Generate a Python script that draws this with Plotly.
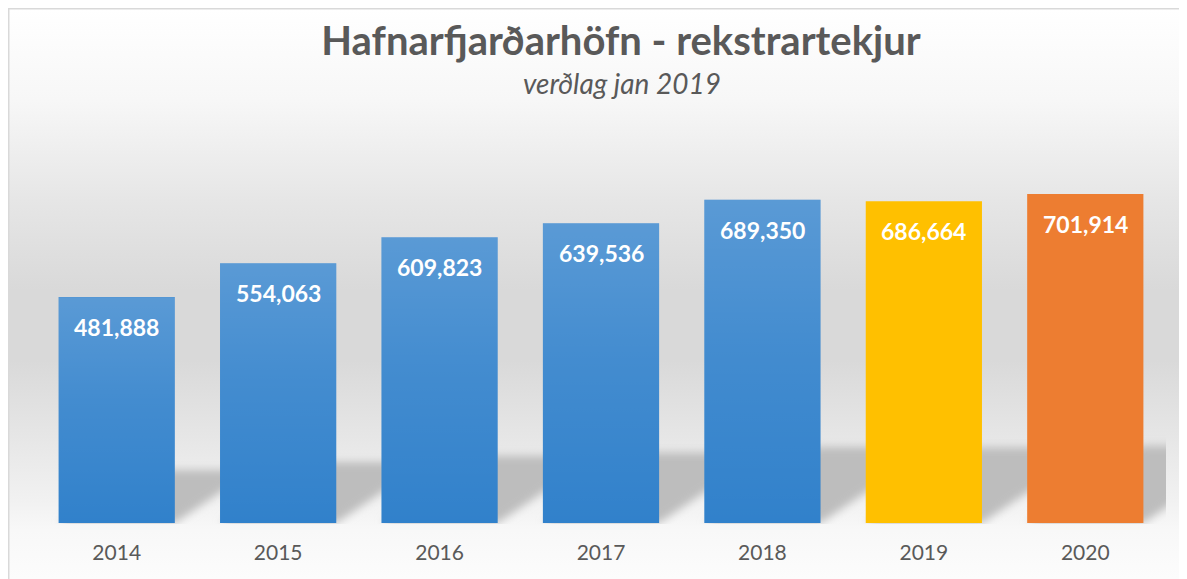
import base64
import plotly.graph_objects as go

# ---- data ----
years = ["2014", "2015", "2016", "2017", "2018", "2019", "2020"]
revenue = [481888, 554063, 609823, 639536, 689350, 686664, 701914]
bar_colors = ["#3181cb", "#3181cb", "#3181cb", "#3181cb", "#3181cb", "#FFC000", "#ED7D31"]
gradient_bars = [True, True, True, True, True, False, False]
title_text = "Hafnarfjarðarhöfn - rekstrartekjur"
subtitle_text = "verðlag jan 2019"
y_max = 800000

# ---- geometry (figure sits 8px inside the page because of the body margin) ----
OFF = 8
W, H = 1187 - OFF, 579 - OFF
ML, MR, MT, MB = 28, 21, 140, 56
PW = W - ML - MR
PH = H - MT - MB
BARGAP = 0.28
n = len(years)
step = PW / n
bw = step * (1 - BARGAP)
BASE = MT + PH


def px_x(i):
    return ML + (i + 0.5) * step


def px_y(v):
    return MT + PH * (1 - v / y_max)


def svg_uri(svg):
    return "data:image/svg+xml;base64," + base64.b64encode(svg.encode("utf-8")).decode("ascii")


# ---- background (gradient + perspective shadows) ----
bg_stops = [(1, "#ffffff"), (92, "#f7f7f7"), (192, "#e6e6e6"), (282, "#d9d9d9"),
            (352, "#d9d9d9"), (422, "#e5e5e5"), (492, "#f1f1f1"), (522, "#f8f8f8"), (571, "#fcfcfc")]
stops_svg = "".join(
    f'<stop offset="{(y - 1) / (571 - 1):.4f}" stop-color="{c}"/>' for y, c in bg_stops)
shadow_polys = []
for i, v in enumerate(revenue):
    left = px_x(i) - bw / 2
    right = px_x(i) + bw / 2
    h = BASE - px_y(v)
    hs = 0.235 * h
    dx = 1.48 * hs
    pts = [(left, BASE), (right, BASE), (right + dx, BASE - hs), (left + dx, BASE - hs)]
    shadow_polys.append('<polygon points="' + " ".join(f"{x:.1f},{y:.1f}" for x, y in pts)
                        + '" fill="#bdbdbd"/>')
bg_svg = (
    f'<svg xmlns="http://www.w3.org/2000/svg" width="{W}" height="{H}" viewBox="0 0 {W} {H}" preserveAspectRatio="none">'
    f'<defs><linearGradient id="bgg" gradientUnits="userSpaceOnUse" x1="0" y1="1" x2="0" y2="571">{stops_svg}</linearGradient>'
    f'<filter id="blur" x="-20%" y="-50%" width="140%" height="200%"><feGaussianBlur stdDeviation="4"/></filter>'
    f'<clipPath id="pc"><rect x="{ML}" y="0" width="{PW}" height="{BASE + 1}"/></clipPath></defs>'
    f'<rect x="0" y="0" width="{W}" height="{H}" fill="url(#bgg)"/>'
    f'<g clip-path="url(#pc)"><g filter="url(#blur)">{"".join(shadow_polys)}</g></g>'
    f'<line x1="0" y1="0.75" x2="{W}" y2="0.75" stroke="#d9d9d9" stroke-width="1.5"/>'
    f'<line x1="0.75" y1="0" x2="0.75" y2="{H}" stroke="#d9d9d9" stroke-width="1.5"/>'
    '</svg>'
)

# ---- gradient sheen on blue bars ----
sheen = []
for i, v in enumerate(revenue):
    if gradient_bars[i]:
        top = px_y(v)
        sheen.append(f'<rect x="{px_x(i) - bw / 2:.2f}" y="{top:.2f}" width="{bw:.2f}" '
                     f'height="{BASE - top:.2f}" fill="url(#sg)"/>')
sheen_svg = (
    f'<svg xmlns="http://www.w3.org/2000/svg" width="{W}" height="{H}" viewBox="0 0 {W} {H}" preserveAspectRatio="none">'
    '<defs><linearGradient id="sg" x1="0" y1="0" x2="0" y2="1">'
    '<stop offset="0" stop-color="#ffffff" stop-opacity="0.2"/>'
    '<stop offset="0.45" stop-color="#ffffff" stop-opacity="0.09"/>'
    '<stop offset="1" stop-color="#ffffff" stop-opacity="0"/>'
    '</linearGradient></defs>' + "".join(sheen) + '</svg>'
)

img_common = dict(xref="paper", yref="paper", x=-ML / PW, y=1 + MT / PH,
                  sizex=W / PW, sizey=H / PH, xanchor="left", yanchor="top", sizing="stretch")

fig = go.Figure()
fig.add_trace(go.Bar(
    x=years, y=revenue, marker=dict(color=bar_colors, line=dict(width=0)),
    hoverinfo="x+y", showlegend=False,
))

annotations = []
for i, v in enumerate(revenue):
    annotations.append(dict(
        x=i, y=v, xref="x", yref="y", text=f"{v:,}", showarrow=False,
        yanchor="middle", yshift=-30,
        font=dict(family="Lato", size=23, color="#ffffff", weight="bold"),
    ))
annotations.append(dict(
    x=(614 - ML) / PW, y=1 + (MT - 75) / PH, xref="paper", yref="paper",
    text=subtitle_text, showarrow=False, xanchor="center", yanchor="middle",
    font=dict(family="Lato", size=28, color="#595959", style="italic"),
))

fig.update_layout(
    width=W, height=H,
    margin=dict(l=ML, r=MR, t=MT, b=MB, pad=0),
    paper_bgcolor="#ffffff", plot_bgcolor="rgba(0,0,0,0)",
    bargap=BARGAP,
    title=dict(text=title_text, x=613 / W, xanchor="center", y=1 - 33 / H, yanchor="middle",
               xref="container", yref="container",
               font=dict(family="Lato", size=40, color="#595959", weight="bold")),
    xaxis=dict(type="category", range=[-0.5, n - 0.5], autorange=False,
               showgrid=False, zeroline=False, showline=False,
               ticks="outside", ticklen=11, tickcolor="rgba(0,0,0,0)",
               tickfont=dict(family="Lato", size=21, color="#595959")),
    yaxis=dict(range=[0, y_max], autorange=False, showgrid=False, zeroline=False, showline=False,
               showticklabels=False, ticks=""),
    images=[dict(source=svg_uri(bg_svg), layer="below", **img_common),
            dict(source=svg_uri(sheen_svg), layer="above", **img_common)],
    annotations=annotations,
    showlegend=False,
)

fig.write_html("out.html")
